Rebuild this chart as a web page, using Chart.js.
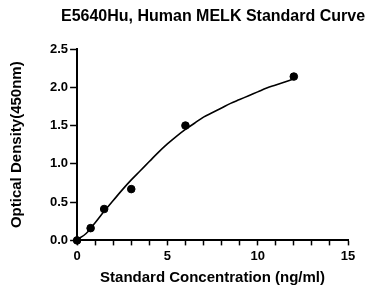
<!DOCTYPE html>
<html>
<head>
<meta charset="utf-8">
<script src="https://cdn.jsdelivr.net/npm/chart.js@4"></script>
<style>
  html, body { margin: 0; padding: 0; background: #fff; }
  #wrap { width: 382px; height: 289px; }
</style>
</head>
<body>
<div id="wrap"><canvas id="curveChart"></canvas></div>
<script>
// Measured standards (concentration ng/ml, OD450)
const standardConc = [0, 0.75, 1.5, 3, 6, 12];
const standardOD = [0.0, 0.16, 0.41, 0.67, 1.5, 2.14];

// Fitted curve
const curveConc = [0, 0.5, 1, 1.5, 2, 2.5, 3, 3.5, 4, 4.5, 5, 5.5, 6, 6.5, 7, 7.5, 8, 8.5, 9, 9.5, 10, 10.5, 11, 11.5, 12];
const curveOD = [0.01, 0.09, 0.23, 0.38, 0.52, 0.66, 0.79, 0.91, 1.03, 1.15, 1.26, 1.36, 1.45, 1.53, 1.61, 1.67, 1.73, 1.79, 1.84, 1.89, 1.94, 1.99, 2.03, 2.07, 2.11];

const xTicks = [0, 5, 10, 15];
const yTicks = [0, 0.5, 1.0, 1.5, 2.0, 2.5];
const chartTitle = 'E5640Hu, Human MELK Standard Curve';

const toXY = (xs, ys) => xs.map((x, i) => ({ x: x, y: ys[i] }));

const boldFont = size => ({ family: 'Arial, "Liberation Sans", sans-serif', size: size, weight: 'bold' });

// Title drawn by hand so it can sit off-centre like the original
const titlePlugin = {
    id: 'offsetTitle',
    afterDraw(chart) {
        const c = chart.ctx;
        c.save();
        c.font = 'bold 16px Arial, "Liberation Sans", sans-serif';
        c.fillStyle = '#000';
        c.textAlign = 'center';
        c.textBaseline = 'middle';
        c.fillText(chartTitle, 213, 17);
        c.restore();
    }
};

const ctx = document.getElementById('curveChart').getContext('2d');
new Chart(ctx, {
    type: 'scatter',
    data: {
        datasets: [{
            type: 'line',
            data: toXY(curveConc, curveOD),
            borderColor: '#000',
            borderWidth: 1.6,
            pointRadius: 0,
            tension: 0.4,
            fill: false
        }, {
            data: toXY(standardConc, standardOD),
            backgroundColor: '#000',
            borderColor: '#000',
            pointRadius: 3.8,
            pointHoverRadius: 3.8,
            clip: false
        }]
    },
    options: {
        responsive: true,
        maintainAspectRatio: false,
        animation: false,
        layout: {
            padding: { top: 49, right: 34, left: 8, bottom: 2 }
        },
        plugins: {
            legend: { display: false },
            tooltip: { enabled: false },
            title: { display: false }
        },
        scales: {
            x: {
                type: 'linear',
                min: 0,
                max: 15,
                afterBuildTicks: axis => {
                    axis.ticks = [];
                    for (let v = 0; v <= 15; v++) axis.ticks.push({ value: v });
                },
                ticks: {
                    color: '#000',
                    font: boldFont(13),
                    padding: 3,
                    autoSkip: false,
                    maxRotation: 0,
                    callback: v => xTicks.includes(v) ? String(v) : ''
                },
                grid: {
                    drawOnChartArea: false,
                    drawTicks: true,
                    tickLength: 5,
                    tickColor: '#000',
                    tickWidth: 1.5
                },
                border: { color: '#000', width: 2 },
                title: {
                    display: true,
                    text: 'Standard Concentration (ng/ml)',
                    color: '#000',
                    font: boldFont(15),
                    padding: { top: 2, bottom: 0 }
                }
            },
            y: {
                min: 0,
                max: 2.5,
                afterBuildTicks: axis => {
                    axis.ticks = yTicks.map(v => ({ value: v }));
                },
                ticks: {
                    color: '#000',
                    font: boldFont(13),
                    padding: 2,
                    callback: v => v.toFixed(1)
                },
                grid: {
                    drawOnChartArea: false,
                    drawTicks: true,
                    tickLength: 7,
                    tickColor: '#000',
                    tickWidth: 1.5
                },
                border: { color: '#000', width: 2 },
                title: {
                    display: true,
                    text: 'Optical Density(450nm)',
                    color: '#000',
                    font: boldFont(15),
                    padding: { top: 0, bottom: 22 }
                }
            }
        }
    },
    plugins: [titlePlugin]
});
</script>
</body>
</html>
